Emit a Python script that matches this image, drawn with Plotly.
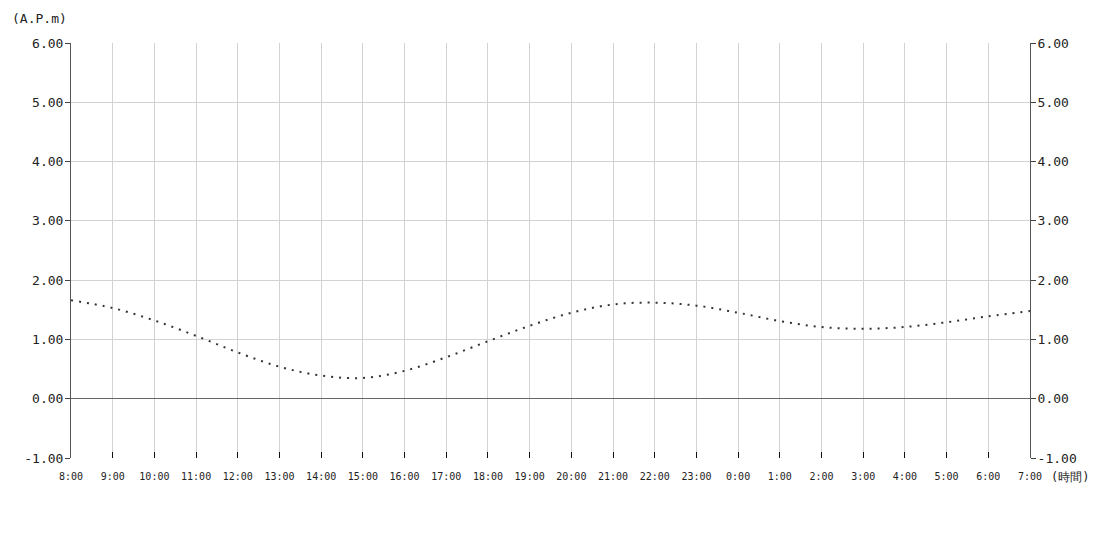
import plotly.graph_objects as go

hours = list(range(24))
tick_labels = ["8:00", "9:00", "10:00", "11:00", "12:00", "13:00", "14:00", "15:00",
               "16:00", "17:00", "18:00", "19:00", "20:00", "21:00", "22:00", "23:00",
               "0:00", "1:00", "2:00", "3:00", "4:00", "5:00", "6:00", "7:00"]
tide = [1.66, 1.53, 1.32, 1.06, 0.78, 0.54, 0.39, 0.35, 0.47, 0.70, 0.97, 1.23,
        1.45, 1.59, 1.62, 1.57, 1.45, 1.31, 1.21, 1.18, 1.21, 1.29, 1.39, 1.48]
y_ticks = [-1, 0, 1, 2, 3, 4, 5, 6]

FONT = "DejaVu Sans Mono"

# page has an 8px body margin; figure coords = page coords - 8
W, H = 1084, 534
L, T = 63, 35
PW, PH = 959, 415
R = W - L - PW
B = H - T - PH

fig = go.Figure()
fig.add_trace(go.Scatter(
    x=hours, y=tide, mode="lines", line_shape="spline",
    line=dict(color="#333333", width=2, dash="2px,6px"),
    hoverinfo="skip", showlegend=False))
fig.add_trace(go.Scatter(
    x=hours, y=tide, yaxis="y2", mode="lines",
    line=dict(color="rgba(0,0,0,0)", width=0),
    hoverinfo="skip", showlegend=False))

yaxis_common = dict(
    range=[-1, 6], tickvals=y_ticks, ticktext=[f"{v:.2f}" for v in y_ticks],
    ticks="outside", ticklen=5, tickcolor="#444", tickwidth=1,
    showline=True, linecolor="#555", linewidth=1,
    tickfont=dict(family=FONT, size=13, color="#222"),
    ticklabelstandoff=-1,
    fixedrange=True,
)


def px(x):
    return (x - L) / PW


def py(y):
    return 1 - (y - T) / PH


fig.update_layout(
    width=W, height=H,
    margin=dict(l=L, r=R, t=T, b=B),
    paper_bgcolor="white", plot_bgcolor="white",
    xaxis=dict(
        range=[0, 23], tickvals=hours, ticktext=tick_labels,
        ticks="inside", ticklen=6, tickcolor="#111", tickwidth=1,
        showgrid=True, gridcolor="#d3d3d3", gridwidth=1,
        showline=False, zeroline=False,
        tickfont=dict(family=FONT, size=10, color="#222"),
        ticklabelstandoff=11,
    ),
    yaxis=dict(
        **yaxis_common, side="left",
        showgrid=True, gridcolor="#d3d3d3", gridwidth=1,
        zeroline=True, zerolinecolor="#666", zerolinewidth=1,
    ),
    yaxis2=dict(
        **yaxis_common, side="right", overlaying="y",
        showgrid=False, zeroline=False,
    ),
    annotations=[
        dict(text="(A.P.m)", x=px(2), y=py(11), xref="paper", yref="paper",
             xanchor="left", yanchor="middle",
             showarrow=False, font=dict(family=FONT, size=13, color="#222")),
        dict(text="(時間)", x=px(1062), y=py(469), xref="paper", yref="paper",
             xanchor="center", yanchor="middle",
             showarrow=False, font=dict(family=FONT, size=12, color="#222")),
    ],
)

fig.write_html("out.html")
